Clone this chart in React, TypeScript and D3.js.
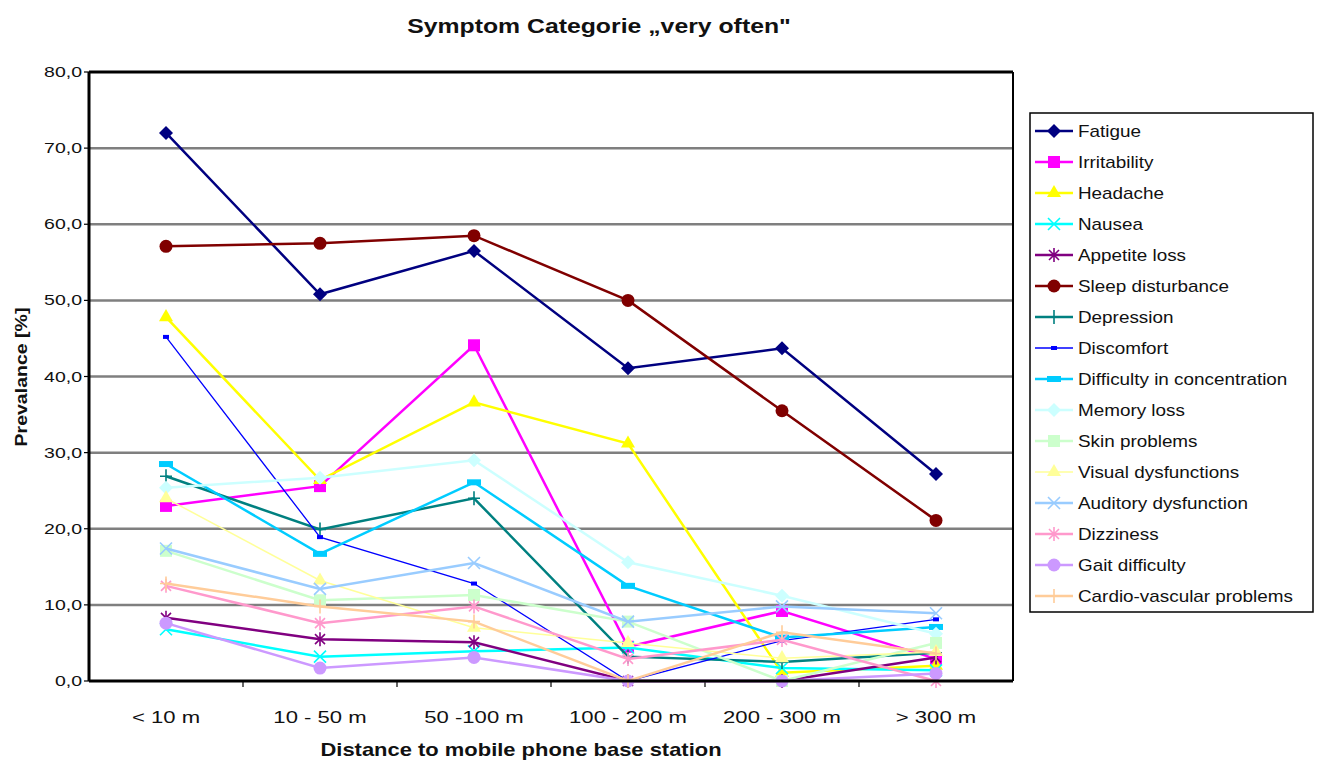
import * as d3 from "d3";

const categories = ["< 10 m", "10 - 50 m", "50 -100 m", "100 - 200 m", "200 - 300 m", "> 300 m"];
const yTicks = [0, 10, 20, 30, 40, 50, 60, 70, 80];

const fatigue = [72.0, 50.8, 56.5, 41.1, 43.7, 27.2];
const irritability = [23.0, 25.6, 44.1, 4.5, 9.2, 2.9];
const headache = [47.8, 26.4, 36.6, 31.2, 1.1, 2.0];
const nausea = [6.8, 3.2, 3.9, 4.4, 1.7, 1.4];
const appetiteLoss = [8.3, 5.5, 5.1, 0.0, 0.0, 3.1];
const sleepDisturbance = [57.1, 57.5, 58.5, 50.0, 35.5, 21.1];
const depression = [26.9, 19.9, 24.0, 3.2, 2.5, 3.7];
const discomfort = [45.2, 18.9, 12.8, 0.0, 5.3, 8.1];
const concentration = [28.5, 16.7, 26.1, 12.5, 5.7, 7.1];
const memoryLoss = [25.4, 26.7, 29.0, 15.6, 11.2, 6.2];
const skinProblems = [17.1, 10.6, 11.3, 7.8, 0.0, 5.0];
const visualDysfunctions = [24.0, 13.2, 7.0, 5.0, 3.0, 3.8];
const auditoryDysfunction = [17.4, 12.1, 15.5, 7.8, 9.8, 8.9];
const dizziness = [12.5, 7.6, 9.8, 2.9, 5.4, 0.0];
const gaitDifficulty = [7.6, 1.7, 3.1, 0.0, 0.0, 1.0];
const cardioVascular = [12.8, 9.8, 7.8, 0.0, 6.4, 3.6];

type Marker = "diamond" | "square" | "triangle" | "x" | "star" | "circle" | "plus" | "dot" | "dash";

const series: { name: string; values: number[]; color: string; marker: Marker; width: number }[] = [
  { name: "Fatigue", values: fatigue, color: "#000080", marker: "diamond", width: 2.5 },
  { name: "Irritability", values: irritability, color: "#FF00FF", marker: "square", width: 2.5 },
  { name: "Headache", values: headache, color: "#FFFF00", marker: "triangle", width: 2.5 },
  { name: "Nausea", values: nausea, color: "#00FFFF", marker: "x", width: 2.5 },
  { name: "Appetite loss", values: appetiteLoss, color: "#800080", marker: "star", width: 2.5 },
  { name: "Sleep disturbance", values: sleepDisturbance, color: "#800000", marker: "circle", width: 2.5 },
  { name: "Depression", values: depression, color: "#008080", marker: "plus", width: 2.5 },
  { name: "Discomfort", values: discomfort, color: "#0000FF", marker: "dot", width: 1.3 },
  { name: "Difficulty in concentration", values: concentration, color: "#00CCFF", marker: "dash", width: 2.5 },
  { name: "Memory loss", values: memoryLoss, color: "#CCFFFF", marker: "diamond", width: 2.5 },
  { name: "Skin problems", values: skinProblems, color: "#CCFFCC", marker: "square", width: 2.5 },
  { name: "Visual dysfunctions", values: visualDysfunctions, color: "#FFFF99", marker: "triangle", width: 1.5 },
  { name: "Auditory dysfunction", values: auditoryDysfunction, color: "#99CCFF", marker: "x", width: 2.5 },
  { name: "Dizziness", values: dizziness, color: "#FF99CC", marker: "star", width: 2.5 },
  { name: "Gait difficulty", values: gaitDifficulty, color: "#CC99FF", marker: "circle", width: 2.5 },
  { name: "Cardio-vascular problems", values: cardioVascular, color: "#FFCC99", marker: "plus", width: 2.5 },
];

const W = 1321;
const H = 767;
const plot = { left: 89, right: 1013, top: 72, bottom: 681 };
const font = "'Liberation Sans', Arial, sans-serif";

const x = d3.scaleBand<string>().domain(categories).range([plot.left, plot.right]);
const y = d3.scaleLinear().domain([0, 80]).range([plot.bottom, plot.top]);

function MarkerShape({ type, cx, cy, color }: { type: Marker; cx: number; cy: number; color: string }) {
  const s = 6;
  switch (type) {
    case "diamond":
      return <path d={`M${cx},${cy - 7}L${cx + 7},${cy}L${cx},${cy + 7}L${cx - 7},${cy}Z`} fill={color} />;
    case "square":
      return <rect x={cx - s} y={cy - s} width={2 * s} height={2 * s} fill={color} />;
    case "triangle":
      return <path d={d3.symbol(d3.symbolTriangle, 85)()!} transform={`translate(${cx},${cy})`} fill={color} />;
    case "circle":
      return <circle cx={cx} cy={cy} r={6.5} fill={color} />;
    case "x":
      return (
        <path d={`M${cx - s},${cy - s}L${cx + s},${cy + s}M${cx - s},${cy + s}L${cx + s},${cy - s}`} stroke={color} strokeWidth={1.6} />
      );
    case "star":
      return (
        <path
          d={`M${cx - 5},${cy - 5}L${cx + 5},${cy + 5}M${cx - 5},${cy + 5}L${cx + 5},${cy - 5}M${cx},${cy - 7}L${cx},${cy + 7}`}
          stroke={color}
          strokeWidth={1.6}
        />
      );
    case "plus":
      return <path d={`M${cx},${cy - 7}L${cx},${cy + 7}M${cx - 6},${cy}L${cx + 6},${cy}`} stroke={color} strokeWidth={1.6} />;
    case "dot":
      return <rect x={cx - 3} y={cy - 2} width={6} height={4} fill={color} />;
    case "dash":
      return <rect x={cx - 7} y={cy - 3} width={14} height={6} fill={color} />;
  }
}

function Txt({ x: tx, y: ty, size, bold, anchor, sx = 1, rotate = 0, children }: any) {
  return (
    <text
      transform={`translate(${tx},${ty}) rotate(${rotate}) scale(${sx},1)`}
      fontSize={size}
      fontWeight={bold ? "bold" : "normal"}
      textAnchor={anchor || "start"}
      fontFamily={font}
      fill="#111"
    >
      {children}
    </text>
  );
}

export default function App() {
  const cx = (c: string) => (x(c) ?? 0) + x.bandwidth() / 2;
  const line = d3
    .line<number>()
    .x((_, i) => cx(categories[i]))
    .y((d) => y(d));

  return (
    <svg width={W} height={H} style={{ position: "absolute", left: 0, top: 0, background: "#fff" }}>
      <rect width={W} height={H} fill="#fff" />
      <Txt x={599} y={33} size={20} bold anchor="middle" sx={1.24}>
        Symptom Categorie „very often"
      </Txt>

      {/* gridlines */}
      {yTicks.slice(1, -1).map((t) => (
        <line key={t} x1={plot.left} x2={plot.right} y1={y(t)} y2={y(t)} stroke="#7f7f7f" strokeWidth={2.5} />
      ))}

      {/* y axis ticks + labels */}
      {yTicks.map((t) => (
        <g key={t}>
          <line x1={plot.left - 5} x2={plot.left} y1={y(t)} y2={y(t)} stroke="#000" strokeWidth={1.2} />
          <Txt x={82} y={y(t) + 5} size={15} anchor="end" sx={1.3}>
            {t.toFixed(1).replace(".", ",")}
          </Txt>
        </g>
      ))}

      {/* x ticks + labels */}
      {categories.map((c, i) => (
        <g key={c}>
          {i > 0 && <line x1={x(c)} x2={x(c)} y1={plot.bottom} y2={plot.bottom + 6} stroke="#000" strokeWidth={1.2} />}
          <Txt x={cx(c)} y={723} size={17} anchor="middle" sx={1.3}>
            {c}
          </Txt>
        </g>
      ))}

      <Txt x={521} y={756} size={18} bold anchor="middle" sx={1.22}>
        Distance to mobile phone base station
      </Txt>
      <Txt x={27} y={377} size={17} bold anchor="middle" rotate={-90} sx={1.15}>
        Prevalance [%]
      </Txt>

      {/* series */}
      {series.map((s) => (
        <g key={s.name}>
          <path d={line(s.values)!} fill="none" stroke={s.color} strokeWidth={s.width} />
          {s.values.map((v, i) => (
            <MarkerShape key={i} type={s.marker} cx={cx(categories[i])} cy={y(v)} color={s.color} />
          ))}
        </g>
      ))}

      {/* plot frame */}
      <line x1={plot.left} x2={plot.right} y1={plot.top} y2={plot.top} stroke="#000" strokeWidth={3} />
      <line x1={plot.right} x2={plot.right} y1={plot.top} y2={plot.bottom} stroke="#000" strokeWidth={2} />
      <line x1={plot.left} x2={plot.left} y1={plot.top} y2={plot.bottom} stroke="#000" strokeWidth={3} />
      <line x1={plot.left} x2={plot.right} y1={plot.bottom} y2={plot.bottom} stroke="#000" strokeWidth={3} />

      {/* legend */}
      <rect x={1030} y={113} width={283} height={499} fill="#fff" stroke="#000" strokeWidth={1.5} />
      {series.map((s, i) => {
        const ly = 131 + i * 31;
        return (
          <g key={s.name}>
            <line x1={1035} x2={1073} y1={ly} y2={ly} stroke={s.color} strokeWidth={s.width} />
            <MarkerShape type={s.marker} cx={1054} cy={ly} color={s.color} />
            <Txt x={1078} y={ly + 6} size={16} sx={1.18}>
              {s.name}
            </Txt>
          </g>
        );
      })}
    </svg>
  );
}
